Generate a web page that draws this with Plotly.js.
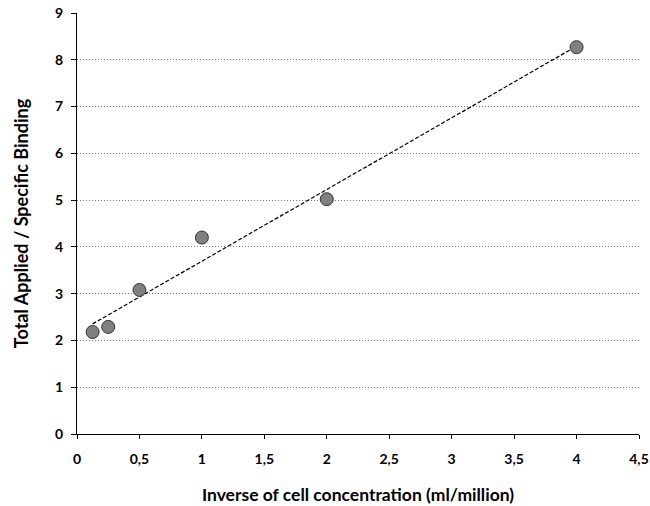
<!DOCTYPE html>
<html>
<head>
<meta charset="utf-8">
<script src="https://cdn.plot.ly/plotly-3.0.1.min.js"></script>
<style>html,body{margin:0;padding:0;background:#fff;}#chart{width:650px;height:506px;}</style>
</head>
<body>
<div id="chart"></div>
<script>
var xValues = [0.125, 0.25, 0.5, 1, 2, 4];
var yValues = [2.18, 2.29, 3.08, 4.2, 5.02, 8.27];
var xTickVals = [0, 0.5, 1, 1.5, 2, 2.5, 3, 3.5, 4, 4.5];
var yTickVals = [0, 1, 2, 3, 4, 5, 6, 7, 8, 9];
var xTitle = 'Inverse of cell concentration (ml/million)';
var yTitle = 'Total Applied / Specific Binding';

// least-squares linear trendline fitted from the data
var n = xValues.length;
var mx = xValues.reduce(function(a,b){return a+b;},0)/n;
var my = yValues.reduce(function(a,b){return a+b;},0)/n;
var sxy = 0, sxx = 0;
for (var i = 0; i < n; i++) { sxy += (xValues[i]-mx)*(yValues[i]-my); sxx += (xValues[i]-mx)*(xValues[i]-mx); }
var slope = sxy/sxx, intercept = my - slope*mx;
var xFit = [Math.min.apply(null,xValues), Math.max.apply(null,xValues)];
var yFit = xFit.map(function(x){return intercept + slope*x;});

var font = 'Lato, "Open Sans", sans-serif';
var traces = [
  {x: xFit, y: yFit, mode: 'lines', type: 'scatter',
   line: {color: '#000', width: 1.2, dash: '4px,2px'}, hoverinfo: 'skip'},
  {x: xValues, y: yValues, mode: 'markers', type: 'scatter',
   marker: {size: 13, color: '#808080', line: {color: '#333', width: 1}}}
];
var layout = {
  width: 650, height: 506,
  margin: {l: 77, r: 11, t: 13, b: 72},
  paper_bgcolor: '#fff', plot_bgcolor: '#fff',
  showlegend: false,
  separators: ',.',
  font: {family: font, color: '#000'},
  xaxis: {
    range: [0, 4.5], tickvals: xTickVals, ticks: 'outside', ticklen: 4, tickcolor: '#000', tickwidth: 1,
    ticklabelstandoff: 8,
    showline: true, linecolor: '#000', linewidth: 1, showgrid: false, zeroline: false,
    tickfont: {family: font, size: 14, weight: 'bold'},
    title: {text: xTitle, font: {family: font, size: 17.5, weight: 'bold'}, standoff: 22}
  },
  yaxis: {
    range: [0, 9], tickvals: yTickVals, ticks: 'outside', ticklen: 5, tickcolor: '#000', tickwidth: 1,
    ticklabelstandoff: 5,
    showline: true, linecolor: '#000', linewidth: 1,
    showgrid: true, gridcolor: '#777', griddash: '1px,2px', gridwidth: 1, zeroline: false,
    tickfont: {family: font, size: 14, weight: 'bold'},
    title: {text: yTitle, font: {family: font, size: 18, weight: 'bold'}, standoff: 21}
  }
};
Plotly.newPlot('chart', traces, layout, {displayModeBar: false, staticPlot: true});
</script>
</body>
</html>
